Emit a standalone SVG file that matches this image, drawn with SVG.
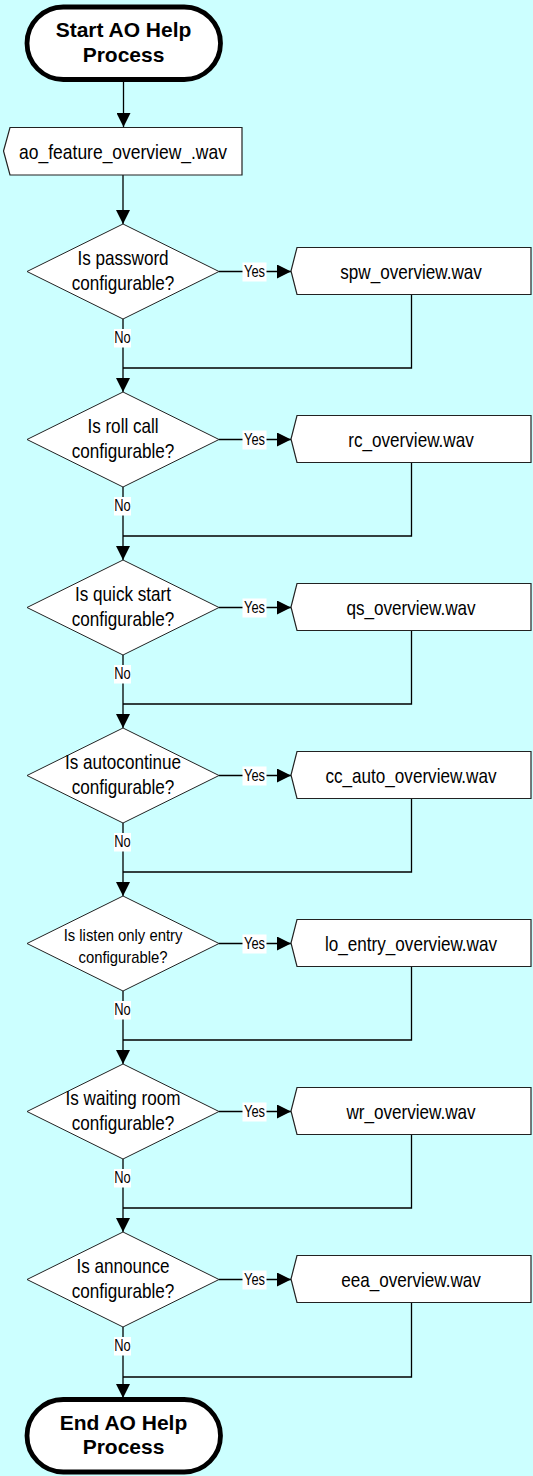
<svg xmlns="http://www.w3.org/2000/svg" width="533" height="1476" viewBox="0 0 533 1476">
  <style>
    .bg { fill: #CCFFFF; }
    .term { fill: #FFFFFF; stroke: #000000; stroke-width: 4.8; }
    .proc { fill: #FFFFFF; stroke: #222222; stroke-width: 1.2; }
    .dec { fill: #FFFFFF; stroke: #222222; stroke-width: 1; }
    .wire { fill: none; stroke: #000000; stroke-width: 1.3; }
    .lblbg { fill: #FFFFFF; }
    text { font-family: "Liberation Sans", Arial, sans-serif; fill: #000000; text-anchor: middle; }
    .tt { font-size: 21px; font-weight: bold; }
    .t { font-size: 19px; }
    .ts { font-size: 16.5px; }
    .tl { font-size: 15px; }
  </style>
  <defs>
    <marker id="arrow" markerUnits="userSpaceOnUse" markerWidth="14" markerHeight="14" refX="14" refY="7" orient="auto">
      <path d="M0,0 L14,7 L0,14 Z" fill="#000000"/>
    </marker>
  </defs>

  <rect class="bg" x="0" y="0" width="533" height="1476"/>

  <!-- connectors -->
  <g id="connectors">
    <path class="wire" d="M123.5 81 V127" marker-end="url(#arrow)"/>
    <path class="wire" d="M123 175 V224" marker-end="url(#arrow)"/>

    <!-- password -->
    <path class="wire" d="M219 271.5 H291" marker-end="url(#arrow)"/>
    <path class="wire" d="M123 319 V392" marker-end="url(#arrow)"/>
    <path class="wire" d="M411.5 294.5 V368 H123"/>
    <!-- roll call -->
    <path class="wire" d="M219 439.5 H291" marker-end="url(#arrow)"/>
    <path class="wire" d="M123 487 V560" marker-end="url(#arrow)"/>
    <path class="wire" d="M411.5 462.5 V536 H123"/>
    <!-- quick start -->
    <path class="wire" d="M219 607.5 H291" marker-end="url(#arrow)"/>
    <path class="wire" d="M123 655 V728" marker-end="url(#arrow)"/>
    <path class="wire" d="M411.5 630.5 V704 H123"/>
    <!-- autocontinue -->
    <path class="wire" d="M219 775.5 H291" marker-end="url(#arrow)"/>
    <path class="wire" d="M123 823 V896" marker-end="url(#arrow)"/>
    <path class="wire" d="M411.5 798.5 V872 H123"/>
    <!-- listen only entry -->
    <path class="wire" d="M219 943.5 H291" marker-end="url(#arrow)"/>
    <path class="wire" d="M123 991 V1064" marker-end="url(#arrow)"/>
    <path class="wire" d="M411.5 966.5 V1040 H123"/>
    <!-- waiting room -->
    <path class="wire" d="M219 1111.5 H291" marker-end="url(#arrow)"/>
    <path class="wire" d="M123 1159 V1232" marker-end="url(#arrow)"/>
    <path class="wire" d="M411.5 1134.5 V1208 H123"/>
    <!-- announce -->
    <path class="wire" d="M219 1279.5 H291" marker-end="url(#arrow)"/>
    <path class="wire" d="M123 1327 V1398" marker-end="url(#arrow)"/>
    <path class="wire" d="M411.5 1302.5 V1377 H123"/>

    <!-- branch labels -->
    <g id="labels">
      <rect class="lblbg" x="242.5" y="262.5" width="24" height="19"/>
      <text class="tl" transform="translate(254.5 276.5) scale(0.86 1.05)">Yes</text>
      <rect class="lblbg" x="114" y="329" width="17" height="18.5"/>
      <text class="tl" transform="translate(122.5 343) scale(0.86 1.05)">No</text>

      <rect class="lblbg" x="242.5" y="430.5" width="24" height="19"/>
      <text class="tl" transform="translate(254.5 444.5) scale(0.86 1.05)">Yes</text>
      <rect class="lblbg" x="114" y="497" width="17" height="18.5"/>
      <text class="tl" transform="translate(122.5 511) scale(0.86 1.05)">No</text>

      <rect class="lblbg" x="242.5" y="598.5" width="24" height="19"/>
      <text class="tl" transform="translate(254.5 612.5) scale(0.86 1.05)">Yes</text>
      <rect class="lblbg" x="114" y="665" width="17" height="18.5"/>
      <text class="tl" transform="translate(122.5 679) scale(0.86 1.05)">No</text>

      <rect class="lblbg" x="242.5" y="766.5" width="24" height="19"/>
      <text class="tl" transform="translate(254.5 780.5) scale(0.86 1.05)">Yes</text>
      <rect class="lblbg" x="114" y="833" width="17" height="18.5"/>
      <text class="tl" transform="translate(122.5 847) scale(0.86 1.05)">No</text>

      <rect class="lblbg" x="242.5" y="934.5" width="24" height="19"/>
      <text class="tl" transform="translate(254.5 948.5) scale(0.86 1.05)">Yes</text>
      <rect class="lblbg" x="114" y="1001" width="17" height="18.5"/>
      <text class="tl" transform="translate(122.5 1015) scale(0.86 1.05)">No</text>

      <rect class="lblbg" x="242.5" y="1102.5" width="24" height="19"/>
      <text class="tl" transform="translate(254.5 1116.5) scale(0.86 1.05)">Yes</text>
      <rect class="lblbg" x="114" y="1169" width="17" height="18.5"/>
      <text class="tl" transform="translate(122.5 1183) scale(0.86 1.05)">No</text>

      <rect class="lblbg" x="242.5" y="1270.5" width="24" height="19"/>
      <text class="tl" transform="translate(254.5 1284.5) scale(0.86 1.05)">Yes</text>
      <rect class="lblbg" x="114" y="1337" width="17" height="18.5"/>
      <text class="tl" transform="translate(122.5 1351) scale(0.86 1.05)">No</text>
    </g>
  </g>

  <!-- terminals -->
  <g id="start">
    <rect class="term" x="27" y="7" width="193.5" height="72.5" rx="36.25"/>
    <text class="tt" x="123.5" y="36.5">Start AO Help</text>
    <text class="tt" x="123.5" y="62">Process</text>
  </g>

  <g id="ao_feature_overview">
    <polygon class="proc" points="10,127.5 242,127.5 242,175 10,175 3.5,151"/>
    <text class="t" transform="translate(123 158.5) scale(0.92 1.04)">ao_feature_overview_.wav</text>
  </g>

  <!-- decisions and prompts -->
  <g id="password_check">
    <polygon class="dec" points="123,224 219,271.5 123,319 27,271.5"/>
    <text class="t" transform="translate(123 264.5) scale(0.9 1.04)">Is password</text>
    <text class="t" transform="translate(123 289.5) scale(0.9 1.04)">configurable?</text>
  </g>
  <g id="spw_overview">
    <polygon class="proc" points="297,247.5 531,247.5 531,294.5 297,294.5 291,271"/>
    <text class="t" transform="translate(411 279) scale(0.9 1.04)">spw_overview.wav</text>
  </g>

  <g id="roll_call_check">
    <polygon class="dec" points="123,392 219,439.5 123,487 27,439.5"/>
    <text class="t" transform="translate(123 432.5) scale(0.9 1.04)">Is roll call</text>
    <text class="t" transform="translate(123 457.5) scale(0.9 1.04)">configurable?</text>
  </g>
  <g id="rc_overview">
    <polygon class="proc" points="297,415.5 531,415.5 531,462.5 297,462.5 291,439"/>
    <text class="t" transform="translate(411 447) scale(0.9 1.04)">rc_overview.wav</text>
  </g>

  <g id="quick_start_check">
    <polygon class="dec" points="123,560 219,607.5 123,655 27,607.5"/>
    <text class="t" transform="translate(123 600.5) scale(0.9 1.04)">Is quick start</text>
    <text class="t" transform="translate(123 625.5) scale(0.9 1.04)">configurable?</text>
  </g>
  <g id="qs_overview">
    <polygon class="proc" points="297,583.5 531,583.5 531,630.5 297,630.5 291,607"/>
    <text class="t" transform="translate(411 615) scale(0.9 1.04)">qs_overview.wav</text>
  </g>

  <g id="autocontinue_check">
    <polygon class="dec" points="123,728 219,775.5 123,823 27,775.5"/>
    <text class="t" transform="translate(123 768.5) scale(0.9 1.04)">Is autocontinue</text>
    <text class="t" transform="translate(123 793.5) scale(0.9 1.04)">configurable?</text>
  </g>
  <g id="cc_auto_overview">
    <polygon class="proc" points="297,751.5 531,751.5 531,798.5 297,798.5 291,775"/>
    <text class="t" transform="translate(411 783) scale(0.9 1.04)">cc_auto_overview.wav</text>
  </g>

  <g id="listen_only_check">
    <polygon class="dec" points="123,896 219,943.5 123,991 27,943.5"/>
    <text class="ts" transform="translate(123 940.5) scale(0.9 1.04)">Is listen only entry</text>
    <text class="ts" transform="translate(123 962.5) scale(0.9 1.04)">configurable?</text>
  </g>
  <g id="lo_entry_overview">
    <polygon class="proc" points="297,919.5 531,919.5 531,966.5 297,966.5 291,943"/>
    <text class="t" transform="translate(411 951) scale(0.9 1.04)">lo_entry_overview.wav</text>
  </g>

  <g id="waiting_room_check">
    <polygon class="dec" points="123,1064 219,1111.5 123,1159 27,1111.5"/>
    <text class="t" transform="translate(123 1104.5) scale(0.9 1.04)">Is waiting room</text>
    <text class="t" transform="translate(123 1129.5) scale(0.9 1.04)">configurable?</text>
  </g>
  <g id="wr_overview">
    <polygon class="proc" points="297,1087.5 531,1087.5 531,1134.5 297,1134.5 291,1111"/>
    <text class="t" transform="translate(411 1119) scale(0.9 1.04)">wr_overview.wav</text>
  </g>

  <g id="announce_check">
    <polygon class="dec" points="123,1232 219,1279.5 123,1327 27,1279.5"/>
    <text class="t" transform="translate(123 1272.5) scale(0.9 1.04)">Is announce</text>
    <text class="t" transform="translate(123 1297.5) scale(0.9 1.04)">configurable?</text>
  </g>
  <g id="eea_overview">
    <polygon class="proc" points="297,1255.5 531,1255.5 531,1302.5 297,1302.5 291,1279"/>
    <text class="t" transform="translate(411 1287) scale(0.9 1.04)">eea_overview.wav</text>
  </g>

  <g id="end">
    <rect class="term" x="27" y="1399.5" width="193.5" height="72.5" rx="36.25"/>
    <text class="tt" x="123.5" y="1429.5">End AO Help</text>
    <text class="tt" x="123.5" y="1454">Process</text>
  </g>
</svg>
